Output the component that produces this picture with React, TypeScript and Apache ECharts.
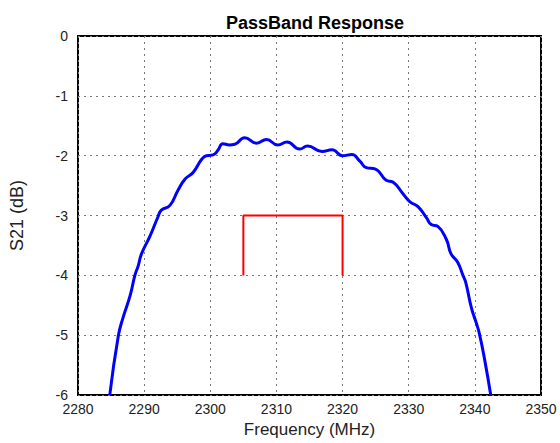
import React, { useEffect, useRef } from "react";
import * as echarts from "echarts";

const title = "PassBand Response";
const xName = "Frequency (MHz)";
const yName = "S21 (dB)";

const freqMHz = [
  2284.8, 2286.1, 2286.8, 2287.9, 2288.6, 2289.1, 2289.6, 2290.9, 2292.1, 2292.6,
  2293.9, 2295.1, 2296.2, 2297.4, 2298.7, 2299.4, 2300.2, 2300.7, 2301.2, 2301.9,
  2302.9, 2303.7, 2305.2, 2307.0, 2308.5, 2310.2, 2311.6, 2313.5, 2314.7, 2316.9,
  2318.4, 2320.0, 2321.4, 2322.6, 2323.6, 2324.9, 2326.6, 2327.6, 2329.1, 2330.2,
  2331.4, 2332.7, 2333.4, 2334.4, 2335.7, 2336.4, 2337.4, 2338.2, 2338.6, 2339.5,
  2340.2, 2340.7, 2341.5, 2342.4,
];
const s21dB = [
  -6.0, -5.01, -4.71, -4.33, -4.0, -3.84, -3.64, -3.34, -3.02, -2.91,
  -2.83, -2.58, -2.39, -2.28, -2.06, -2.0, -1.99, -1.97, -1.9, -1.8,
  -1.82, -1.81, -1.7, -1.79, -1.73, -1.82, -1.77, -1.89, -1.84, -1.93,
  -1.9, -2.0, -1.98, -2.09, -2.2, -2.22, -2.41, -2.44, -2.63, -2.77,
  -2.85, -3.04, -3.15, -3.18, -3.4, -3.64, -3.78, -4.0, -4.11, -4.55,
  -4.79, -4.98, -5.42, -6.0,
];

const maskFreq = [2305, 2305, 2320, 2320];
const maskDB = [-4, -3, -3, -4];

export default function App() {
  const ref = useRef<HTMLDivElement>(null);
  useEffect(() => {
    document.body.style.margin = "0";
    if (!ref.current) return;
    const chart = echarts.init(ref.current, null, { renderer: "svg" });
    const font = "Liberation Sans, Arial, Helvetica, sans-serif";
    chart.setOption({
      animation: false,
      title: {
        text: title,
        left: 310,
        top: 9,
        textAlign: "center",
        textStyle: { fontFamily: font, fontSize: 18, fontWeight: "bold", color: "#000" },
      },
      grid: {
        left: 78,
        right: 19,
        top: 36,
        bottom: 41,
        show: true,
        borderColor: "#000",
        borderWidth: 2,
        backgroundColor: "#fff",
      },
      xAxis: {
        type: "value",
        min: 2280,
        max: 2350,
        interval: 10,
        name: xName,
        nameLocation: "middle",
        nameGap: 21,
        nameTextStyle: { fontFamily: font, fontSize: 17, color: "#222" },
        axisLine: { show: false },
        axisTick: { show: false },
        axisLabel: {
          fontFamily: font,
          fontSize: 14,
          color: "#222",
          margin: 7,
          formatter: (v: number) => String(v),
        },
        splitLine: { show: true, lineStyle: { color: "#777", width: 1, type: [2, 4] } },
      },
      yAxis: {
        type: "value",
        min: -6,
        max: 0,
        interval: 1,
        name: yName,
        nameLocation: "middle",
        nameGap: 52,
        nameRotate: 90,
        nameTextStyle: { fontFamily: font, fontSize: 18, color: "#222" },
        axisLine: { show: false },
        axisTick: { show: false },
        axisLabel: { fontFamily: font, fontSize: 14, color: "#222", margin: 10 },
        splitLine: { show: true, lineStyle: { color: "#777", width: 1, type: [2, 4] } },
      },
      series: [
        {
          type: "line",
          data: freqMHz.map((f, i) => [f, s21dB[i]]),
          showSymbol: false,
          smooth: 0.5,
          lineStyle: { color: "#0000ff", width: 3 },
          z: 3,
        },
        {
          type: "line",
          data: maskFreq.map((f, i) => [f, maskDB[i]]),
          showSymbol: false,
          lineStyle: { color: "#ff0000", width: 2 },
          z: 2,
        },
      ],
    });
    return () => chart.dispose();
  }, []);
  return <div ref={ref} style={{ width: 560, height: 443 }} />;
}
